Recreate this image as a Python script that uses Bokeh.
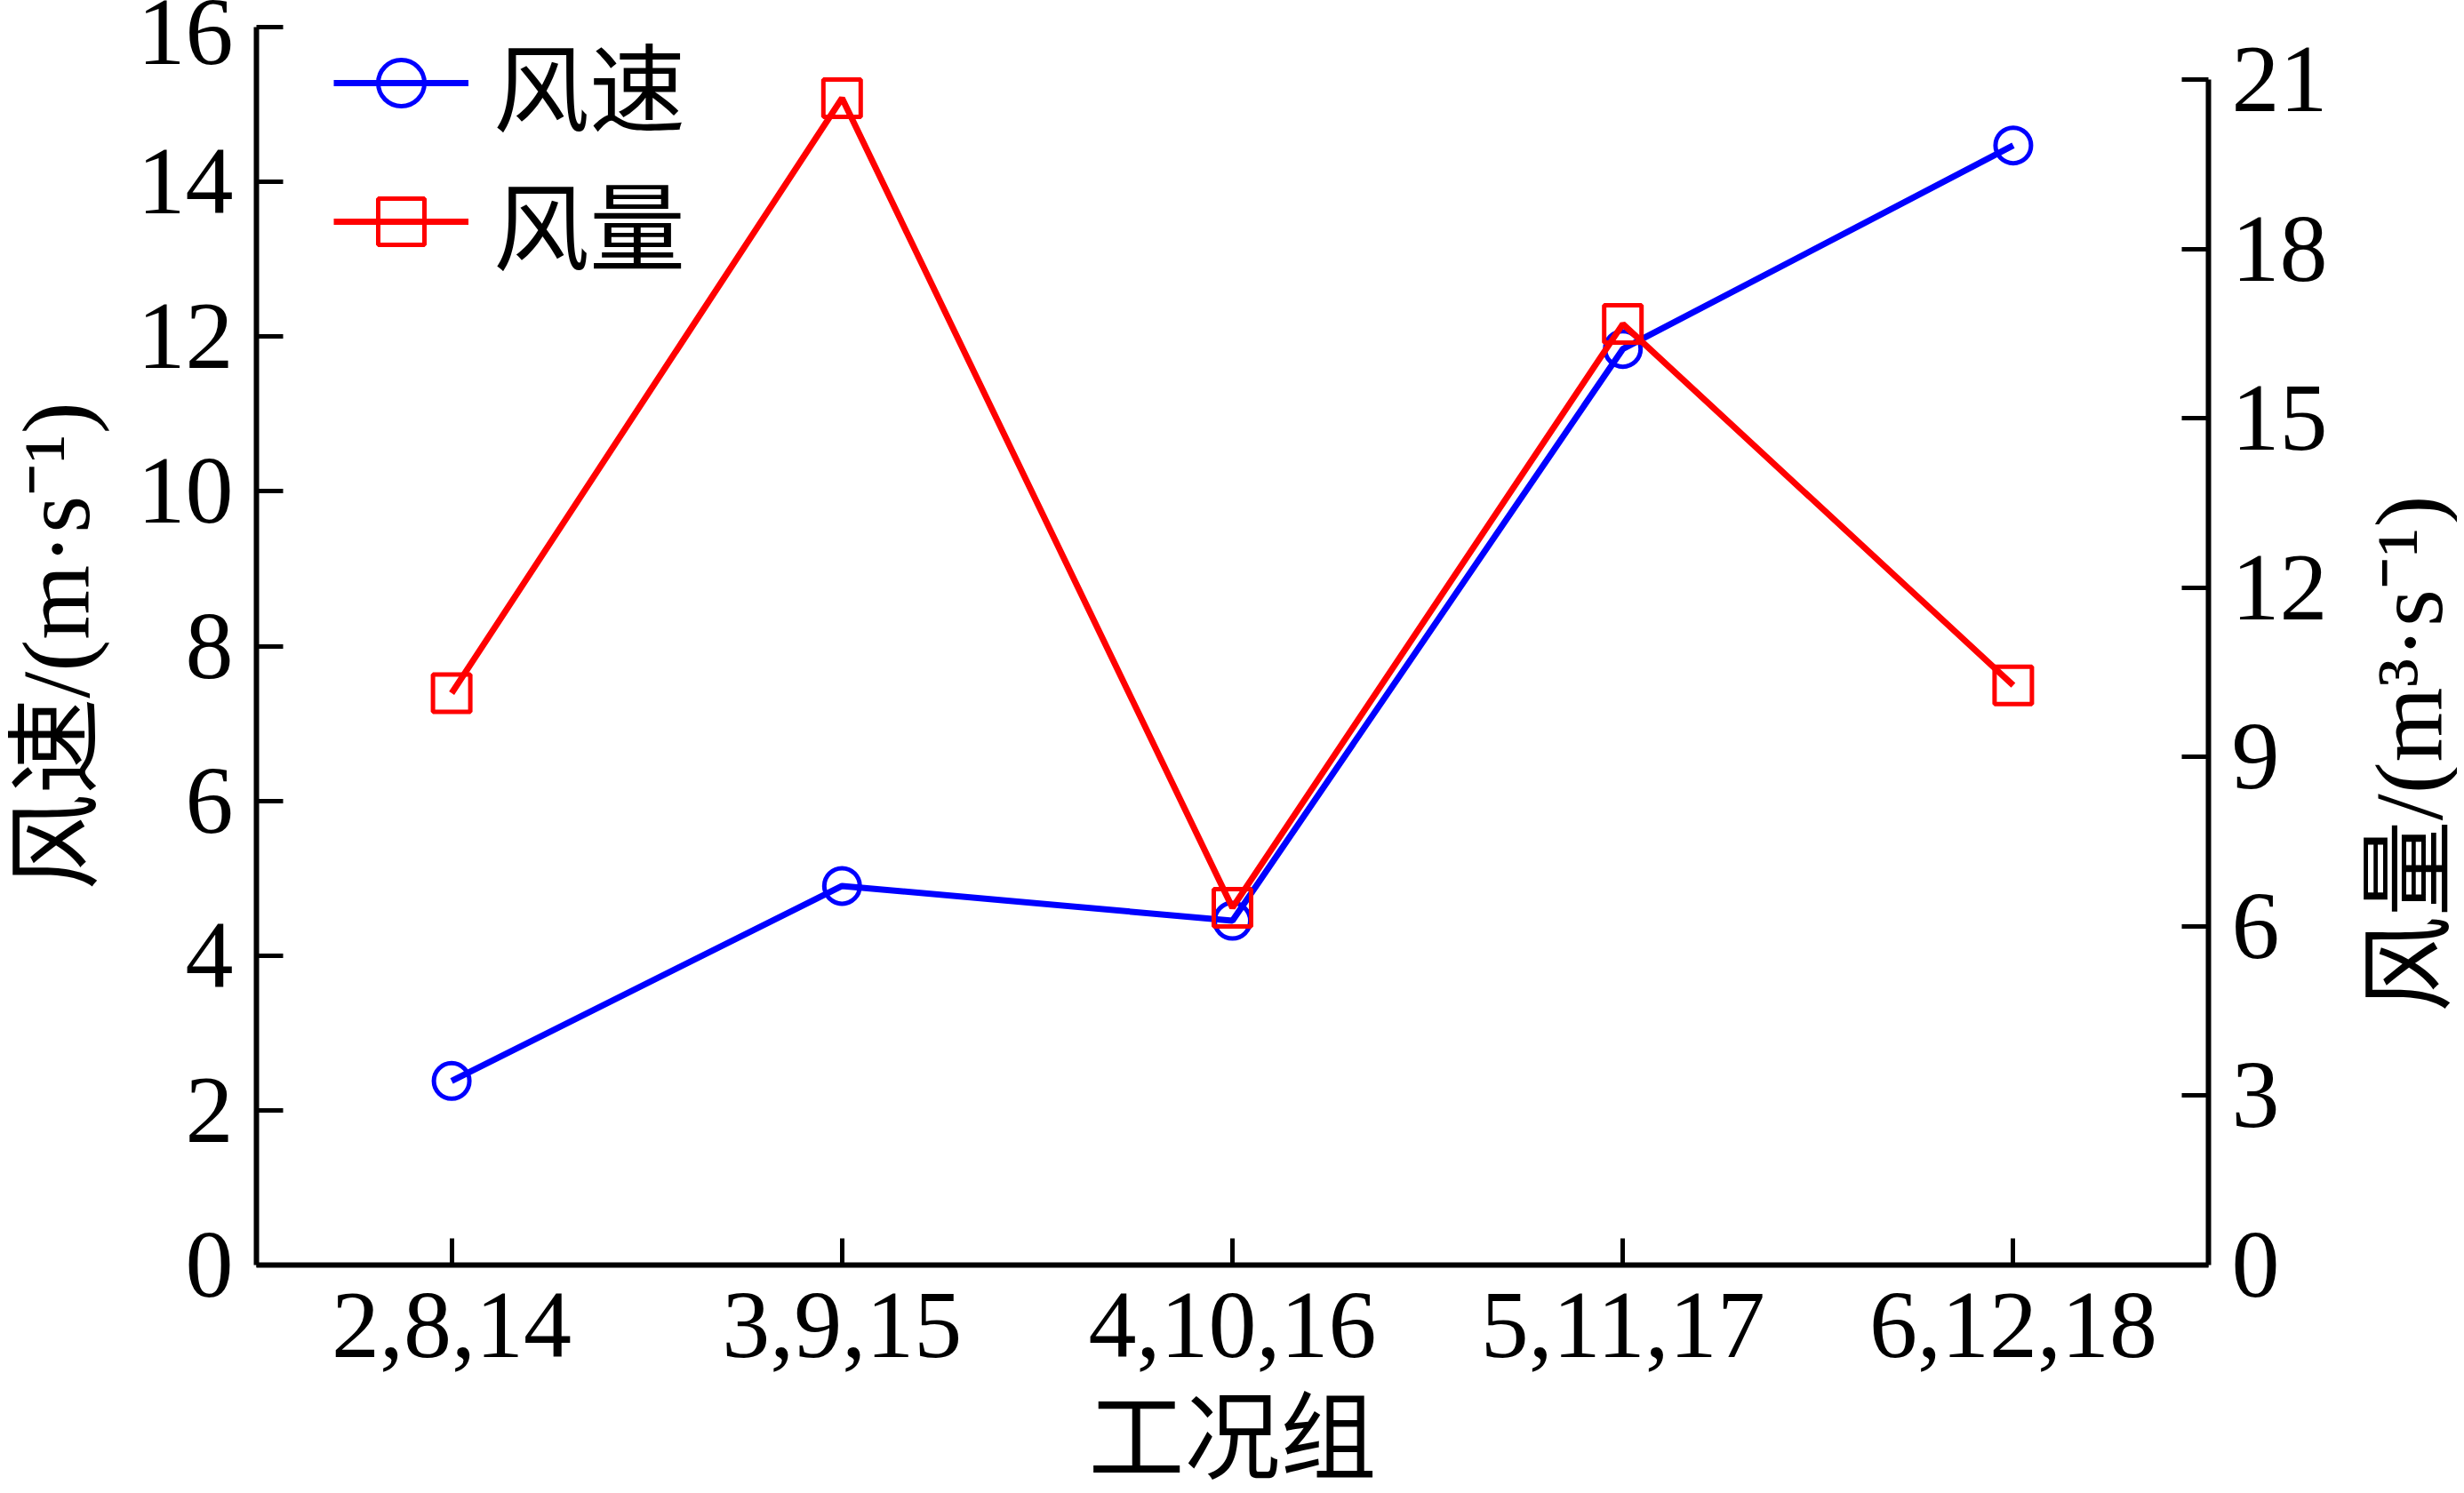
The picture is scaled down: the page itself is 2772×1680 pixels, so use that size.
import math
from bokeh.plotting import figure
from bokeh.models import (Range1d, LinearAxis, FactorRange, FixedTicker,
                          Legend, LegendItem, ColumnDataSource, Label)
from bokeh.embed import file_html
from bokeh.resources import INLINE

# ---- data ----
groups = ["2,8,14", "3,9,15", "4,10,16", "5,11,17", "6,12,18"]
wind_speed = [2.38, 4.90, 4.45, 11.84, 14.47]      # 风速 (m/s), left axis
air_volume = [10.13, 20.67, 6.33, 16.67, 10.27]    # 风量 (m3/s), right axis
left_ticks = [0, 2, 4, 6, 8, 10, 12, 14, 16]
right_ticks = [0, 3, 6, 9, 12, 15, 18, 21]
x_title = "工况组"
left_title = "风速/(m·s⁻¹)"
right_title = "风量/(m³·s⁻¹)"

FONT = "Liberation Serif, Noto Sans CJK SC"
FS = "108px"
FRAME_W, FRAME_H = 2196, 1393

src = ColumnDataSource(data=dict(g=groups, v=wind_speed, q=air_volume))

p = figure(x_range=FactorRange(factors=groups), y_range=Range1d(0, 16),
           frame_width=FRAME_W, frame_height=FRAME_H,
           min_border_left=280, min_border_right=280,
           min_border_top=30, min_border_bottom=245,
           output_backend="svg", toolbar_location=None)
p.extra_y_ranges = {"q": Range1d(0, 21.93)}
p.outline_line_color = None
p.xgrid.visible = False
p.ygrid.visible = False
p.background_fill_color = "white"
p.border_fill_color = "white"

def style(ax):
    ax.axis_line_width = 6
    ax.axis_line_color = "black"
    ax.major_tick_line_width = 5
    ax.major_tick_line_color = "black"
    ax.major_tick_in = 30
    ax.major_tick_out = 0
    ax.minor_tick_line_color = None
    ax.major_label_text_font = FONT
    ax.major_label_text_font_size = FS
    ax.major_label_text_color = "black"
    ax.axis_label_text_font = FONT
    ax.axis_label_text_font_size = FS
    ax.axis_label_text_font_style = "normal"
    ax.axis_label_text_color = "black"

xa = p.xaxis[0]
style(xa)
xa.axis_label = x_title
xa.major_label_standoff = 32
xa.axis_label_standoff = 30

ya = p.yaxis[0]
style(ya)
ya.ticker = FixedTicker(ticks=left_ticks)
ya.axis_label = left_title
ya.major_label_standoff = 26
ya.axis_label_standoff = 29

ra = LinearAxis(y_range_name="q", ticker=FixedTicker(ticks=right_ticks), bounds=(0, 21))
style(ra)
ra.major_label_standoff = 26
p.add_layout(ra, "right")

# right axis title, reading bottom-to-top; placed in the right side panel
p.add_layout(Label(x=2710, y=848, x_units="canvas", y_units="canvas",
                   text=right_title, angle=math.pi / 2,
                   text_align="center", text_baseline="middle",
                   text_font=FONT, text_font_size=FS, text_color="black"),
             "right")

BLUE = "#0000ff"
RED = "#ff0000"

l1 = p.line("g", "v", source=src, line_color=BLUE, line_width=7)
s1 = p.scatter("g", "v", source=src, marker="circle", size=40,
               line_color=BLUE, line_width=5, fill_color=None)
l2 = p.line("g", "q", source=src, line_color=RED, line_width=7, y_range_name="q")
s2 = p.scatter("g", "q", source=src, marker="square", size=42,
               line_color=RED, line_width=5, fill_color=None, y_range_name="q")

legend = Legend(items=[LegendItem(label="风速", renderers=[l1, s1]),
                       LegendItem(label="风量", renderers=[l2, s2])],
                location=(87, 1096))
legend.label_text_font = FONT
legend.label_text_font_size = FS
legend.label_text_color = "black"
legend.glyph_width = 152
legend.glyph_height = 130
legend.label_height = 130
legend.spacing = -22
legend.padding = 0
legend.margin = 0
legend.label_standoff = 28
legend.border_line_color = None
legend.background_fill_alpha = 0
p.add_layout(legend, "center")

open("out.html", "w").write(file_html(p, INLINE))
